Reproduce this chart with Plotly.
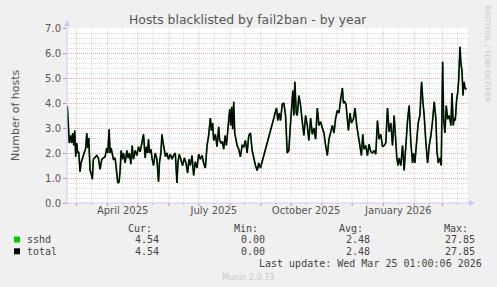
import pandas as pd
import plotly.graph_objects as go

# ---------------- data ----------------
start_date = "2025-02-19 12:00"
end_date = "2026-03-26 12:00"

day_offsets = [
    0.3, 1.3, 2.3, 3.7, 4.7, 5.7, 6.7, 7.7, 8.7, 9.7, 10.7, 11.7, 13, 14, 15.3, 16.3, 17.7, 18.7, 19.7, 20.7,
    21.7, 23, 24, 25.3, 26.3, 28, 29.7, 31.3, 33, 34.7, 36.3, 38, 39.7, 40.7, 42, 43, 44, 45.3, 46.3, 48,
    49.7, 50.7, 52, 53, 54, 55.3, 56.3, 58, 59.7, 61, 62.3, 63.7, 65, 66.3, 68, 69.7, 71.3,
    73, 74.7, 76.3, 78, 79, 80.3, 81.3, 82.3, 83.7, 85, 86.3, 88, 89.7, 91.3, 92.3, 93.7, 94.7, 95.7, 97, 98.3,
    99.7, 101.3, 103, 104.7, 106.3, 108, 109.7, 110.7, 112, 113.7, 115.3, 117, 118.7, 120.3, 121.7, 123, 124.7,
    126.3, 128, 129.7, 131.3, 133, 134.7, 136.3, 138, 139.7, 141.3, 143, 144, 145.3, 146.3, 148, 149.7, 151.3,
    152.3, 153.7, 155, 156.3, 157.7, 159, 160.3, 161.3, 162.3, 163.3, 164.3, 165.3, 166.3, 167.3, 168.3, 169.7,
    171.3, 173, 174.7, 176.3, 178, 179.7, 181.3, 183, 184.7, 186.3, 188, 189.7, 191.3, 193,
    196.3, 199.7, 203, 206.3, 209, 210.3, 211.7, 213, 214.7, 216.3, 218, 219.7, 221.3, 222.3, 223.7, 225.3,
    226.3, 227.3, 228.7, 229.7, 231.3, 233, 234.7, 236.3, 238, 239.7, 241.3, 243, 244.7, 246.3, 248, 249.7,
    251.3, 253, 254.7, 256.3, 258, 259.7, 261.3, 263, 264.7, 266.3, 268, 269.7, 271.3, 273, 274.7, 275.7, 277,
    278.3, 279.7, 280.7, 282.3, 283.7, 285.7, 287.3, 289, 290.3, 292, 293.7, 295, 296.3, 298, 299.7, 301.3,
    303, 304.7, 306.3, 308, 309.7, 311.3, 313, 314.7, 316.3, 318, 319.7, 321.3, 323, 324.7, 326.3, 328, 329,
    330.3, 331.3, 333, 334.7, 336.3, 338, 339.7, 341.3, 343, 344.7, 345.7, 347, 348.7, 350.3, 352, 353.7, 355,
    356.3, 358, 359.7, 361.3, 363, 364.7, 366.3, 368, 369, 370.3, 372, 373.3, 374.7, 375.7, 377, 378.3, 379.7,
    381.3, 383, 384, 385.3, 386.3, 387.3, 388.7, 389.7, 390.7, 392, 393, 394, 395, 396, 397, 398.3,
]

hosts = [
    3.88, 2.8, 2.4, 2.7, 2.4, 2.8, 2.3, 2.9, 1.85, 2.4, 2.0, 2.05, 1.25, 1.6, 1.75, 1.9, 2.1, 2.2, 2.8, 2.2,
    2.6, 1.3, 1.2, 0.95, 1.75, 1.85, 1.9, 1.8, 1.35, 1.75, 1.8, 1.85, 2.2, 2.0, 2.95, 2.0, 2.2, 1.9, 1.75, 1.8,
    1.05, 0.8, 0.85, 1.3, 2.1, 1.75, 2.0, 1.6, 2.1, 1.8, 2.0, 1.55, 2.3, 1.75, 2.1, 1.9, 2.25,
    2.05, 2.4, 2.75, 1.8, 2.25, 2.0, 2.55, 2.0, 2.15, 1.75, 1.5, 2.0, 1.75, 0.85, 1.65, 2.0, 2.75, 2.45, 2.15, 1.85,
    2.0, 1.75, 1.95, 1.75, 1.9, 2.0, 0.8, 1.65, 1.95, 1.75, 1.5, 1.8, 1.6, 1.2, 1.75, 1.5, 1.9,
    1.1, 1.65, 1.4, 1.95, 1.75, 1.9, 1.6, 1.4, 2.3, 2.7, 3.4, 2.9, 3.2, 2.5, 2.75, 2.25, 3.05,
    2.5, 2.4, 2.45, 2.15, 2.7, 2.3, 2.95, 3.3, 3.75, 3.1, 3.85, 2.95, 4.05, 2.8, 2.5, 2.3,
    2.15, 1.85, 2.3, 2.25, 2.5, 2.0, 2.7, 2.8, 2.1, 1.75, 1.5, 1.3, 1.6, 1.4,
    1.9, 2.3, 2.8, 3.3, 3.8, 3.3, 3.6, 3.3, 3.95, 4.0, 3.5, 2.0, 2.1, 2.8, 3.5, 4.5,
    3.5, 4.85, 3.6, 3.5, 4.3, 3.9, 3.25, 2.7, 3.5, 3.1, 2.5, 3.4, 2.75, 3.0, 2.55, 3.8,
    3.1, 3.25, 3.0, 2.8, 2.3, 1.9, 2.55, 2.8, 3.1, 2.8, 3.4, 3.7, 3.6, 4.15, 4.6, 4.0, 4.05,
    3.95, 3.3, 2.9, 3.6, 3.2, 3.35, 3.8, 3.1, 2.8, 2.45, 1.9, 2.75, 2.15, 2.3, 1.9, 2.35,
    2.05, 2.0, 2.1, 1.95, 3.3, 2.55, 2.75, 2.25, 2.3, 2.4, 3.8, 2.85, 3.2, 2.3, 3.5, 2.45, 1.8,
    1.5, 1.8, 1.5, 2.3, 1.3, 2.5, 3.3, 3.9, 2.4, 1.6, 2.0, 1.6, 2.5, 3.2, 3.5, 4.85, 4.05,
    3.5, 2.4, 1.6, 2.3, 2.7, 3.3, 4.05, 3.35, 2.1, 1.6, 1.8, 1.5, 5.65, 3.35, 2.8, 3.9, 3.35,
    3.5, 3.1, 4.4, 3.1, 3.4, 3.3, 4.15, 4.4, 4.9, 6.25, 5.55, 5.3, 4.3, 4.85, 4.6, 4.54,
]

y_ticks = [0, 1, 2, 3, 4, 5, 6, 7]
x_label_dates = ["2025-04-16", "2025-07-16", "2025-10-16", "2026-01-16"]
x_label_text = ["April 2025", "July 2025", "October 2025", "January 2026"]

legend_series = ["sshd", "total"]
legend_colors = ["#00cc00", "#000000"]
stat_headers = ["Cur:", "Min:", "Avg:", "Max:"]
stat_values = [["4.54", "0.00", "2.48", "27.85"], ["4.54", "0.00", "2.48", "27.85"]]
last_update = "Last update: Wed Mar 25 01:00:06 2026"

# ---------------- figure ----------------
t0 = pd.Timestamp(start_date)
dates = [t0 + pd.Timedelta(days=d) for d in day_offsets]

W, H = 497, 287
L, R, T, B = 67, 29, 28, 84
PW, PH = W - L - R, H - T - B


def px(x):
    return (x - L) / PW


def py(y):
    return (H - B - y) / PH


fig = go.Figure()
fig.add_trace(go.Scatter(x=dates, y=hosts, mode="lines", line=dict(color="#1f7a1f", width=1.8),
                         hoverinfo="skip", showlegend=False))
fig.add_trace(go.Scatter(x=dates, y=hosts, mode="lines", line=dict(color="#000000", width=1.2),
                         hoverinfo="skip", showlegend=False))

DOT = "1px,1px"
shapes = []
red = "rgba(235,130,130,0.5)"
gray = "rgba(175,175,175,0.5)"
for m in pd.date_range("2025-03-01", "2026-03-01", freq="MS"):
    shapes.append(dict(type="line", xref="x", yref="paper", x0=m, x1=m, y0=0, y1=1,
                       line=dict(color=red, width=1, dash=DOT), layer="below"))
    shapes.append(dict(type="line", xref="x", yref="paper", x0=m, x1=m, y0=0, y1=py(H - B + 3),
                       line=dict(color="rgba(230,90,90,0.7)", width=1), layer="above"))
for m in pd.date_range("2025-02-16", "2026-03-16", freq="MS") + pd.Timedelta(days=15):
    if pd.Timestamp(start_date) < m < pd.Timestamp(end_date):
        shapes.append(dict(type="line", xref="x", yref="paper", x0=m, x1=m, y0=0, y1=1,
                           line=dict(color=gray, width=1, dash=DOT), layer="below"))
        shapes.append(dict(type="line", xref="x", yref="paper", x0=m, x1=m, y0=0, y1=py(H - B + 2),
                           line=dict(color="rgba(160,160,160,0.6)", width=1), layer="above"))

axis_col = "#c8c8f8"
# axis lines and arrows
shapes.append(dict(type="line", xref="paper", yref="paper", x0=px(L), x1=px(L), y0=py(H - B + 2), y1=py(24),
                   line=dict(color=axis_col, width=1)))
shapes.append(dict(type="line", xref="paper", yref="paper", x0=px(L - 3), x1=px(W - R + 2), y0=0, y1=0,
                   line=dict(color=axis_col, width=1)))
shapes.append(dict(type="path", xref="paper", yref="paper",
                   path=f"M {px(L - 3)} {py(26)} L {px(L + 3)} {py(26)} L {px(L)} {py(20)} Z",
                   fillcolor=axis_col, line=dict(width=0)))
shapes.append(dict(type="path", xref="paper", yref="paper",
                   path=f"M {px(W - R + 1)} {py(H - B - 3)} L {px(W - R + 1)} {py(H - B + 3)} L {px(W - R + 7)} {py(H - B)} Z",
                   fillcolor=axis_col, line=dict(width=0)))

# legend squares
for i, c in enumerate(legend_colors):
    yc = 239.5 + 11.8 * i
    shapes.append(dict(type="rect", xref="paper", yref="paper", x0=px(14), x1=px(20),
                       y0=py(yc + 3), y1=py(yc - 3), fillcolor=c, line=dict(width=0)))

ann = []
mono = dict(family="DejaVu Sans Mono", size=10, color="#444444")
head_right = [154, 260, 365, 470]
val_right = [161, 267, 372, 477]
for h, xr in zip(stat_headers, head_right):
    ann.append(dict(text=h, x=px(xr), y=py(228), xanchor="right", yanchor="middle"))
for i, name in enumerate(legend_series):
    yc = 239.5 + 11.8 * i
    ann.append(dict(text=name, x=px(25), y=py(yc), xanchor="left", yanchor="middle"))
    for v, xr in zip(stat_values[i], val_right):
        ann.append(dict(text=v, x=px(xr), y=py(yc), xanchor="right", yanchor="middle"))
ann.append(dict(text=last_update, x=px(484), y=py(263.5), xanchor="right", yanchor="middle"))
for a in ann:
    a.update(xref="paper", yref="paper", showarrow=False, font=mono)

ann.append(dict(text="Munin 2.0.73", x=px(247.5), y=py(277), xref="paper", yref="paper", showarrow=False,
                xanchor="center", yanchor="middle", font=dict(family="DejaVu Sans", size=8, color="#c8c8c8")))
ann.append(dict(text="RRDTOOL / TOBI OETIKER", x=px(487.5), y=py(54), xref="paper", yref="paper",
                showarrow=False, textangle=90, xanchor="center", yanchor="middle",
                font=dict(family="DejaVu Sans", size=7.5, color="#c8c8c8")))
ann.append(dict(text="Number of hosts", x=px(15), y=py(115), xref="paper", yref="paper", showarrow=False,
                textangle=-90, xanchor="center", yanchor="middle",
                font=dict(family="DejaVu Sans", size=11, color="#555555")))
ann.append(dict(text="Hosts blacklisted by fail2ban - by year", x=px(248), y=py(19), xref="paper",
                yref="paper", showarrow=False, xanchor="center", yanchor="middle",
                font=dict(family="DejaVu Sans", size=12.4, color="#555555")))

fig.update_layout(
    width=W, height=H,
    margin=dict(l=L, r=R, t=T, b=B, pad=0),
    paper_bgcolor="#f0f0f0", plot_bgcolor="#ffffff",
    shapes=shapes, annotations=ann, showlegend=False,
    xaxis=dict(type="date", range=[start_date, end_date], showgrid=False, zeroline=False, showline=False,
               tickmode="array", tickvals=x_label_dates, ticktext=x_label_text, ticks="",
               tickfont=dict(family="DejaVu Sans", size=10, color="#555555"), fixedrange=True),
    yaxis=dict(range=[0, 7], tickmode="array", tickvals=y_ticks, ticktext=[f"{v:.1f}" for v in y_ticks],
               showgrid=True, gridcolor=red, griddash=DOT, gridwidth=1, zeroline=False, showline=False,
               ticks="outside", ticklen=3, tickcolor="rgba(230,90,90,0.7)",
               tickfont=dict(family="DejaVu Sans", size=10, color="#555555"),
               minor=dict(dtick=0.2, showgrid=True, gridcolor=gray, griddash=DOT, gridwidth=1),
               fixedrange=True),
)

fig.write_html("out.html")
